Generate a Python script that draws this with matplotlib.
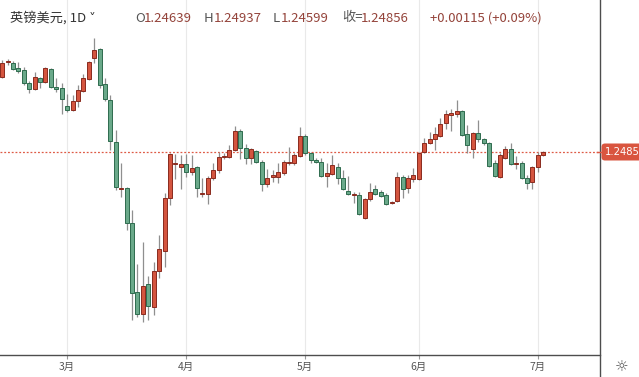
import matplotlib
matplotlib.use("Agg")
import matplotlib.pyplot as plt
import numpy as np
import pandas as pd
from matplotlib.lines import Line2D

plt.rcParams['font.family'] = ['Noto Sans CJK SC', 'DejaVu Sans']

# GBP/USD daily candles
dates = pd.bdate_range("2020-02-13", "2020-07-02")

opens = [1.2966, 1.3062, 1.3056, 1.3024, 1.3011, 1.2928, 1.2889, 1.2960, 1.2934, 1.3017,
         1.2902, 1.2896, 1.2780, 1.2755, 1.2812, 1.2876, 1.2953, 1.3088, 1.3145, 1.2921,
         1.2819, 1.2550, 1.2249, 1.2256, 1.2032, 1.1590, 1.1449, 1.1641, 1.1494, 1.1724,
         1.1852, 1.2192, 1.2409, 1.2390, 1.2409, 1.2358, 1.2390, 1.2217, 1.2217, 1.2320,
         1.2371, 1.2454, 1.2454, 1.2499, 1.2620, 1.2512, 1.2448, 1.2492, 1.2422, 1.2281,
         1.2326, 1.2326, 1.2352, 1.2416, 1.2416, 1.2460, 1.2588, 1.2480, 1.2435, 1.2422,
         1.2332, 1.2345, 1.2390, 1.2320, 1.2236, 1.2211, 1.2211, 1.2064, 1.2185, 1.2249,
         1.2230, 1.2211, 1.2160, 1.2172, 1.2326, 1.2256, 1.2313, 1.2313, 1.2486, 1.2544,
         1.2569, 1.2588, 1.2672, 1.2723, 1.2729, 1.2748, 1.2601, 1.2505, 1.2608, 1.2569,
         1.2544, 1.2416, 1.2326, 1.2448, 1.2505, 1.2409, 1.2416, 1.2320, 1.2294, 1.2390,
         1.24639]
highs = [1.3075, 1.3081, 1.3068, 1.3062, 1.3030, 1.2940, 1.2998, 1.2966, 1.3030, 1.3024,
         1.2960, 1.2928, 1.2857, 1.2851, 1.2915, 1.2985, 1.3068, 1.3216, 1.3152, 1.2960,
         1.2851, 1.2627, 1.2416, 1.2262, 1.2115, 1.1769, 1.1910, 1.1692, 1.1782, 1.1955,
         1.2224, 1.2480, 1.2473, 1.2467, 1.2473, 1.2467, 1.2396, 1.2320, 1.2332, 1.2416,
         1.2486, 1.2480, 1.2531, 1.2652, 1.2633, 1.2537, 1.2512, 1.2499, 1.2435, 1.2377,
         1.2371, 1.2416, 1.2435, 1.2518, 1.2480, 1.2646, 1.2601, 1.2486, 1.2448, 1.2448,
         1.2416, 1.2467, 1.2416, 1.2371, 1.2332, 1.2230, 1.2230, 1.2192, 1.2288, 1.2275,
         1.2243, 1.2224, 1.2172, 1.2358, 1.2339, 1.2339, 1.2384, 1.2486, 1.2576, 1.2614,
         1.2646, 1.2704, 1.2755, 1.2761, 1.2819, 1.2755, 1.2659, 1.2614, 1.2691, 1.2576,
         1.2550, 1.2435, 1.2480, 1.2524, 1.2544, 1.2460, 1.2428, 1.2339, 1.2396, 1.2486,
         1.24937]
lows = [1.2960, 1.3043, 1.3011, 1.2992, 1.2915, 1.2864, 1.2883, 1.2896, 1.2928, 1.2896,
        1.2870, 1.2729, 1.2742, 1.2748, 1.2774, 1.2870, 1.2947, 1.3056, 1.2896, 1.2812,
        1.2499, 1.2243, 1.2198, 1.1987, 1.1411, 1.1430, 1.1398, 1.1411, 1.1443, 1.1680,
        1.1750, 1.2147, 1.2313, 1.2249, 1.2326, 1.2339, 1.2198, 1.2198, 1.2153, 1.2307,
        1.2352, 1.2441, 1.2448, 1.2492, 1.2441, 1.2409, 1.2409, 1.2416, 1.2236, 1.2262,
        1.2294, 1.2288, 1.2339, 1.2403, 1.2403, 1.2454, 1.2467, 1.2416, 1.2416, 1.2326,
        1.2262, 1.2339, 1.2281, 1.2243, 1.2211, 1.2160, 1.2083, 1.2057, 1.2172, 1.2211,
        1.2198, 1.2147, 1.2153, 1.2166, 1.2192, 1.2224, 1.2294, 1.2307, 1.2480, 1.2537,
        1.2499, 1.2582, 1.2633, 1.2620, 1.2710, 1.2588, 1.2480, 1.2448, 1.2550, 1.2531,
        1.2390, 1.2326, 1.2320, 1.2441, 1.2403, 1.2377, 1.2313, 1.2249, 1.2249, 1.2358,
        1.24599]
closes = [1.3056, 1.3068, 1.3017, 1.3004, 1.2928, 1.2889, 1.2966, 1.2934, 1.3024, 1.2902,
          1.2889, 1.2825, 1.2755, 1.2812, 1.2883, 1.2960, 1.3062, 1.3139, 1.2915, 1.2825,
          1.2556, 1.2262, 1.2256, 1.2032, 1.1584, 1.1449, 1.1628, 1.1500, 1.1724, 1.1865,
          1.2192, 1.2473, 1.2416, 1.2409, 1.2358, 1.2384, 1.2256, 1.2224, 1.2320, 1.2371,
          1.2454, 1.2460, 1.2499, 1.2620, 1.2512, 1.2448, 1.2505, 1.2422, 1.2281, 1.2320,
          1.2339, 1.2358, 1.2422, 1.2422, 1.2467, 1.2588, 1.2480, 1.2435, 1.2422, 1.2332,
          1.2352, 1.2403, 1.2320, 1.2249, 1.2217, 1.2217, 1.2089, 1.2185, 1.2230, 1.2217,
          1.2204, 1.2153, 1.2166, 1.2326, 1.2249, 1.2320, 1.2339, 1.2480, 1.2544, 1.2569,
          1.2601, 1.2665, 1.2729, 1.2736, 1.2748, 1.2595, 1.2531, 1.2608, 1.2569, 1.2544,
          1.2396, 1.2332, 1.2467, 1.2505, 1.2409, 1.2416, 1.2320, 1.2288, 1.2390, 1.2464,
          1.24856]

last_price = "1.24856"
header_parts = [("英镑美元, 1D ˅", "#333333", 10),
                ("O", "#555555", 135), ("1.24639", "#94433a", 144),
                ("H", "#555555", 204), ("1.24937", "#94433a", 214),
                ("L", "#555555", 273), ("1.24599", "#94433a", 281),
                ("收=", "#555555", 342), ("1.24856", "#94433a", 361),
                ("+0.00115 (+0.09%)", "#94433a", 430)]

W, H = 639, 377
up_fill, up_edge = "#d4553f", "#8a2b1f"
dn_fill, dn_edge = "#6aa98a", "#2e6b4e"

fig = plt.figure(figsize=(W / 100, H / 100), dpi=100)
ax = fig.add_axes([0, 22 / H, 600 / W, 355 / H])

o = np.array(opens)
c = np.array(closes)
hi = np.array(highs)
lo = np.array(lows)
x = np.arange(len(o))
up = c >= o

bottom = np.minimum(o, c)
height = np.maximum(np.abs(c - o), 0.00035)

ax.vlines(x, lo, hi, color="#8f8f8f", linewidth=0.9, zorder=2)
ax.bar(x[up], height[up], bottom=bottom[up], width=0.74, color=up_fill,
       edgecolor=up_edge, linewidth=0.7, zorder=3)
ax.bar(x[~up], height[~up], bottom=bottom[~up], width=0.74, color=dn_fill,
       edgecolor=dn_edge, linewidth=0.7, zorder=3)

# last price line
ax.axhline(closes[-1], color="#de5a45", linewidth=0.9, linestyle=(0, (1.5, 1.5)), zorder=1)

ax.set_xlim(-0.41, 110.5)
ax.set_ylim(1.1187, 1.3459)

# month ticks at the first bar of each month
month_idx = [i for i in range(1, len(dates)) if dates[i].month != dates[i - 1].month]
ax.set_xticks(month_idx)
ax.set_xticklabels([f"{dates[i].month}月" for i in month_idx])
ax.tick_params(axis="x", length=3, width=0.8, color="#999999", labelsize=7.5,
               labelcolor="#555555", pad=2)
ax.set_yticks([])
ax.grid(True, axis="x", color="#e9e9e9", linewidth=0.8, zorder=0)
ax.set_axisbelow(True)

for s in ["top", "left", "right"]:
    ax.spines[s].set_visible(False)
ax.spines["bottom"].set_color("#4d4d4d")
ax.spines["bottom"].set_linewidth(1.0)

# price scale separator
fig.add_artist(Line2D([600 / W, 600 / W], [0, 1], transform=fig.transFigure,
                      color="#4d4d4d", linewidth=1.0))
fig.add_artist(Line2D([597 / W, 602 / W], [1 - 152 / H, 1 - 152 / H],
                      transform=fig.transFigure, color="#de5a45", linewidth=1.0))
fig.text(605 / W, 1 - 152 / H, last_price, color="white", fontsize=7.2,
         va="center", ha="left", family=["DejaVu Sans"],
         bbox=dict(boxstyle="round,pad=0.35", facecolor="#d9553f", edgecolor="none"))

for txt, col, px in header_parts:
    fig.text(px / W, 1 - 18 / H, txt, color=col, fontsize=9.5, va="center", ha="left")

fig.text(622 / W, 1 - 367 / H, "☼", color="#555555", fontsize=11, va="center",
         ha="center", family=["DejaVu Sans"])

fig.savefig("out.png", dpi=100, facecolor="white")
